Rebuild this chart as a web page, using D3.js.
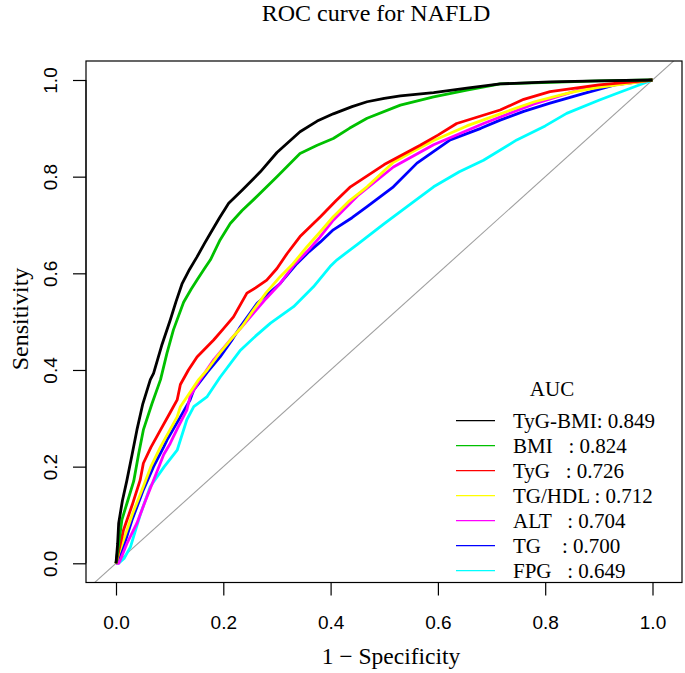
<!DOCTYPE html>
<html>
<head>
<meta charset="utf-8">
<script src="https://cdn.jsdelivr.net/npm/d3@7"></script>
<style>
body{margin:0;background:#fff;}
text{white-space:pre;}
</style>
</head>
<body>
<div id="chartId"></div>
<script>
// ROC curves, points as [1 - specificity, sensitivity]
var tygBmi = [[0,0],[0.003,0.04],[0.005,0.083],[0.012,0.13],[0.02,0.17],[0.03,0.225],[0.039,0.276],[0.05,0.33],[0.064,0.38],[0.07,0.393],[0.085,0.45],[0.101,0.503],[0.112,0.542],[0.123,0.578],[0.137,0.608],[0.151,0.634],[0.165,0.662],[0.176,0.683],[0.193,0.715],[0.21,0.745],[0.235,0.772],[0.269,0.81],[0.3,0.85],[0.343,0.893],[0.375,0.915],[0.405,0.93],[0.44,0.945],[0.468,0.955],[0.5,0.962],[0.53,0.967],[0.592,0.974],[0.654,0.983],[0.716,0.992],[0.809,0.996],[0.9,0.998],[1,1]];
var bmi = [[0,0],[0.005,0.04],[0.011,0.09],[0.022,0.13],[0.033,0.17],[0.042,0.225],[0.051,0.276],[0.067,0.33],[0.083,0.38],[0.095,0.435],[0.107,0.483],[0.126,0.54],[0.14,0.567],[0.151,0.586],[0.165,0.61],[0.176,0.628],[0.194,0.669],[0.213,0.703],[0.235,0.73],[0.256,0.752],[0.3,0.8],[0.343,0.848],[0.375,0.865],[0.405,0.879],[0.435,0.9],[0.468,0.921],[0.53,0.948],[0.592,0.965],[0.654,0.979],[0.716,0.992],[0.809,0.995],[0.9,0.998],[1,1]];
var tyg = [[0,0],[0.005,0.025],[0.014,0.069],[0.03,0.12],[0.045,0.172],[0.051,0.207],[0.065,0.24],[0.083,0.276],[0.1,0.31],[0.114,0.338],[0.12,0.37],[0.135,0.4],[0.151,0.427],[0.182,0.462],[0.2,0.485],[0.219,0.51],[0.244,0.559],[0.26,0.57],[0.281,0.586],[0.3,0.61],[0.319,0.641],[0.343,0.676],[0.368,0.703],[0.381,0.717],[0.41,0.75],[0.437,0.779],[0.5,0.825],[0.567,0.865],[0.6,0.886],[0.635,0.91],[0.716,0.938],[0.76,0.96],[0.809,0.976],[0.9,0.99],[1,1]];
var tgHdl = [[0,0],[0.005,0.02],[0.014,0.048],[0.03,0.1],[0.051,0.159],[0.065,0.2],[0.083,0.241],[0.1,0.275],[0.114,0.303],[0.12,0.324],[0.154,0.38],[0.17,0.4],[0.19,0.43],[0.213,0.462],[0.235,0.49],[0.256,0.524],[0.28,0.56],[0.306,0.593],[0.33,0.62],[0.356,0.655],[0.38,0.685],[0.405,0.717],[0.435,0.75],[0.468,0.779],[0.517,0.83],[0.55,0.85],[0.592,0.875],[0.654,0.905],[0.716,0.93],[0.78,0.955],[0.85,0.975],[0.9,0.985],[1,1]];
var alt = [[0,0],[0.005,0],[0.008,0.007],[0.02,0.04],[0.039,0.083],[0.055,0.13],[0.07,0.172],[0.089,0.225],[0.101,0.248],[0.115,0.28],[0.132,0.317],[0.138,0.345],[0.157,0.38],[0.182,0.421],[0.213,0.462],[0.235,0.49],[0.256,0.517],[0.28,0.548],[0.306,0.579],[0.33,0.615],[0.356,0.645],[0.38,0.675],[0.405,0.71],[0.45,0.76],[0.517,0.82],[0.592,0.866],[0.685,0.91],[0.778,0.95],[0.871,0.982],[1,1]];
var tg = [[0,0],[0.005,0.01],[0.014,0.034],[0.03,0.09],[0.051,0.152],[0.07,0.2],[0.089,0.241],[0.095,0.255],[0.12,0.303],[0.138,0.338],[0.145,0.359],[0.17,0.395],[0.194,0.427],[0.215,0.46],[0.232,0.49],[0.263,0.538],[0.306,0.579],[0.337,0.62],[0.36,0.645],[0.381,0.665],[0.405,0.69],[0.44,0.715],[0.468,0.738],[0.517,0.779],[0.561,0.828],[0.623,0.876],[0.68,0.9],[0.716,0.917],[0.76,0.935],[0.809,0.952],[0.871,0.972],[0.93,0.99],[1,1]];
var fpg = [[0,0],[0.005,0],[0.015,0.01],[0.027,0.034],[0.045,0.1],[0.064,0.159],[0.09,0.2],[0.114,0.234],[0.132,0.297],[0.145,0.324],[0.17,0.345],[0.194,0.385],[0.232,0.441],[0.26,0.47],[0.288,0.497],[0.331,0.531],[0.368,0.572],[0.399,0.614],[0.412,0.628],[0.45,0.66],[0.5,0.703],[0.545,0.74],[0.592,0.779],[0.64,0.81],[0.685,0.834],[0.747,0.876],[0.8,0.905],[0.84,0.931],[0.9,0.958],[0.933,0.972],[1,1]];

var seriesNames = ["TyG-BMI", "BMI", "TyG", "TG/HDL", "ALT", "TG", "FPG"];
var legendLabels = ["TyG-BMI: 0.849", "BMI   : 0.824", "TyG   : 0.726", "TG/HDL : 0.712", "ALT   : 0.704", "TG    : 0.700", "FPG   : 0.649"];
var seriesData = [tygBmi, bmi, tyg, tgHdl, alt, tg, fpg];
var color = ["#000000", "#00c000", "#ff0000", "#ffff00", "#ff00ff", "#0000ff", "#00ffff"];
var ticks = [0, 0.2, 0.4, 0.6, 0.8, 1.0];

var width = 685, height = 673;
var box = {left: 86, right: 682, top: 61, bottom: 582.5};

var svg = d3.select("#chartId").append("svg")
    .attr("width", width).attr("height", height)
    .style("display", "block");

var x = d3.scaleLinear().domain([0, 1]).range([116, 652.5]);
var y = d3.scaleLinear().domain([0, 1]).range([563.3, 80]);

svg.append("clipPath").attr("id", "plotClip")
    .append("rect")
    .attr("x", box.left).attr("y", box.top)
    .attr("width", box.right - box.left).attr("height", box.bottom - box.top);

var plot = svg.append("g").attr("clip-path", "url(#plotClip)");

// chance line
plot.append("line")
    .attr("x1", x(-0.2)).attr("y1", y(-0.2))
    .attr("x2", x(1.2)).attr("y2", y(1.2))
    .style("stroke", "#a0a0a0").style("stroke-width", 1.1);

var line = d3.line()
    .x(function(d){ return x(d[0]); })
    .y(function(d){ return y(d[1]); });

// draw last series first so black ends up on top
seriesData.slice().reverse().forEach(function(s, i){
    var k = seriesData.length - 1 - i;
    plot.append("path")
        .datum(s)
        .attr("d", line)
        .attr("fill", "none")
        .style("stroke", color[k])
        .style("stroke-width", 2.8)
        .style("stroke-linejoin", "round");
});

// frame
svg.append("rect")
    .attr("x", box.left).attr("y", box.top)
    .attr("width", box.right - box.left).attr("height", box.bottom - box.top)
    .attr("fill", "none").style("stroke", "#000").style("stroke-width", 1.2);

// x axis
var xAxis = svg.append("g").attr("transform", "translate(0," + box.bottom + ")")
    .call(d3.axisBottom(x).tickValues(ticks).tickSize(13).tickSizeOuter(0).tickPadding(20)
        .tickFormat(d3.format(".1f")));
xAxis.select(".domain")
    .attr("d", "M" + x(0) + ",0H" + x(1));
xAxis.selectAll("line").style("stroke-width", 1.2);
xAxis.selectAll("text")
    .style("font-family", "'Liberation Sans', Arial, sans-serif")
    .style("font-size", "19px").attr("fill", "#000");

// y axis, labels parallel to the axis like base R
var yAxis = svg.append("g").attr("transform", "translate(" + box.left + ",0)")
    .call(d3.axisLeft(y).tickValues(ticks).tickSize(13).tickSizeOuter(0)
        .tickFormat(d3.format(".1f")));
yAxis.select(".domain")
    .attr("d", "M0," + y(0) + "V" + y(1));
yAxis.selectAll("line").style("stroke-width", 1.2);
yAxis.selectAll("text")
    .attr("x", 0).attr("dy", 0)
    .attr("transform", "translate(-29,0) rotate(-90)")
    .attr("text-anchor", "middle")
    .style("font-family", "'Liberation Sans', Arial, sans-serif")
    .style("font-size", "19px").attr("fill", "#000");

// titles
svg.append("text")
    .attr("x", 376).attr("y", 21)
    .attr("text-anchor", "middle")
    .style("font-family", "'Liberation Serif', 'Times New Roman', serif")
    .style("font-size", "24px")
    .text("ROC curve for NAFLD");

svg.append("text")
    .attr("x", 391).attr("y", 664)
    .attr("text-anchor", "middle")
    .style("font-family", "'Liberation Serif', 'Times New Roman', serif")
    .style("font-size", "23.5px")
    .text("1 \u2212 Specificity");

svg.append("text")
    .attr("transform", "translate(28,319) rotate(-90)")
    .attr("text-anchor", "middle")
    .style("font-family", "'Liberation Serif', 'Times New Roman', serif")
    .style("font-size", "24px")
    .text("Sensitivity");

// legend
var legend = svg.append("g");
legend.append("text")
    .attr("x", 552).attr("y", 396)
    .attr("text-anchor", "middle")
    .style("font-family", "'Liberation Serif', 'Times New Roman', serif")
    .style("font-size", "21px")
    .text("AUC");

var rows = legend.selectAll("g.row").data(legendLabels).enter().append("g")
    .attr("class", "row")
    .attr("transform", function(d, i){ return "translate(0," + (420.7 + i * 25) + ")"; });
rows.append("line")
    .attr("x1", 456).attr("x2", 495)
    .style("stroke", function(d, i){ return color[i]; })
    .style("stroke-width", 1.3);
rows.append("text")
    .attr("x", 513).attr("y", 7.5)
    .style("font-family", "'Liberation Serif', 'Times New Roman', serif")
    .style("font-size", "21px")
    .text(function(d){ return d; });
</script>
</body>
</html>
